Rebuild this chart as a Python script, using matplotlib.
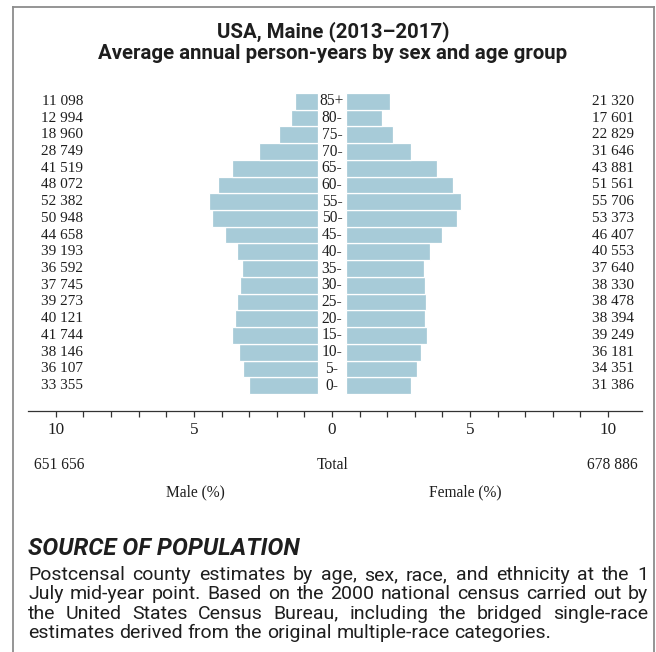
import matplotlib
matplotlib.use('Agg')
import matplotlib.pyplot as plt
from matplotlib.lines import Line2D

# Datos de la piramide (Maine 2013-2017), de 0- a 85+
ages = ['0-', '5-', '10-', '15-', '20-', '25-', '30-', '35-', '40-',
        '45-', '50-', '55-', '60-', '65-', '70-', '75-', '80-', '85+']
male = [33355, 36107, 38146, 41744, 40121, 39273, 37745, 36592, 39193,
        44658, 50948, 52382, 48072, 41519, 28749, 18960, 12994, 11098]
female = [31386, 34351, 36181, 39249, 38394, 38478, 38330, 37640, 40553,
          46407, 53373, 55706, 51561, 43881, 31646, 22829, 17601, 21320]
male_total = 651656
female_total = 678886

title1 = 'USA, Maine (2013\u20132017)'
title2 = 'Average annual person-years by sex and age group'
source_head = 'SOURCE OF POPULATION'
source_lines = [
    'Postcensal county estimates by age, sex, race, and ethnicity at the 1',
    'July mid-year point. Based on the 2000 national census carried out by',
    'the United States Census Bureau, including the bridged single-race',
    'estimates derived from the original multiple-race categories.',
]

W, H = 656, 652
bar_color = '#a7cbd8'
serif = 'Liberation Serif'
sans = 'Roboto'
ink = '#1e1e1e'


def fmt(v):
    return '{:,}'.format(v).replace(',', ' ')


grand = male_total + female_total
pm = [v / grand * 100 for v in male]
pf = [v / grand * 100 for v in female]
y = list(range(len(ages)))
off = 0.5  # hueco central para las etiquetas de edad

fig = plt.figure(figsize=(W / 100, H / 100), dpi=100)
fig.patch.set_facecolor('white')

ax = fig.add_axes([28 / W, (H - 411) / H, (642 - 28) / W, (411 - 93) / H])
ax.barh(y, [-v for v in pm], left=-off, height=1.0, color=bar_color,
        edgecolor='white', linewidth=0.9)
ax.barh(y, pf, left=off, height=1.0, color=bar_color,
        edgecolor='white', linewidth=0.9)
ax.set_xlim(-11.01, 11.23)
ax.set_ylim(-1.52, 17.5)

for i, a in enumerate(ages):
    ax.text(0, i, a, ha='center', va='center', family=serif, fontsize=11.2,
            color=ink)
    ax.text(-9.02, i, fmt(male[i]), ha='right', va='center', family=serif,
            fontsize=11, color=ink)
    ax.text(10.94, i, fmt(female[i]), ha='right', va='center', family=serif,
            fontsize=11, color=ink)

for s in ['top', 'left', 'right']:
    ax.spines[s].set_visible(False)
ax.spines['bottom'].set_color('#333333')
ax.spines['bottom'].set_linewidth(0.9)
ax.set_yticks([])
ax.set_xticks([-10, -5, 0, 5, 10])
ax.set_xticklabels(['10', '5', '0', '5', '10'], family=serif, fontsize=12.3,
                   color=ink)
ax.set_xticks([i for i in range(-10, 11) if i % 5 != 0], minor=True)
ax.tick_params(axis='x', which='both', direction='out', length=4, width=0.9,
               color='#333333', pad=4)


def px(xp, yp):
    return xp / W, (H - yp) / H


# textos inferiores
fig.text(*px(34, 469), fmt(male_total), ha='left', va='baseline',
         family=serif, fontsize=11.2, color=ink)
fig.text(*px(333, 469), 'Total', ha='center', va='baseline',
         family=serif, fontsize=11.2, color=ink)
fig.text(*px(638, 469), fmt(female_total), ha='right', va='baseline',
         family=serif, fontsize=11.2, color=ink)
fig.text(*px(195, 496), 'Male (%)', ha='center', va='baseline',
         family=serif, fontsize=11.2, color=ink)
fig.text(*px(465, 496), 'Female (%)', ha='center', va='baseline',
         family=serif, fontsize=11.2, color=ink)

# titulo
fig.text(*px(333, 37), title1, ha='center', va='baseline', family=sans,
         weight='bold', fontsize=14.7, color=ink)
fig.text(*px(333, 59), title2, ha='center', va='baseline', family=sans,
         weight='bold', fontsize=14.7, color=ink)

# fuente
fig.text(*px(28, 555), source_head, ha='left', va='baseline', family=sans,
         weight='bold', style='italic', fontsize=17.2, color=ink)

renderer = fig.canvas.get_renderer()
x0, x1 = 28, 648
body_size = 14.0
for k, line in enumerate(source_lines):
    yb = 580 + 19.3 * k
    words = line.split(' ')
    arts = [fig.text(0, 0, w, ha='left', va='baseline', family=sans,
                     fontsize=body_size, color=ink) for w in words]
    widths = [t.get_window_extent(renderer).width for t in arts]
    if k < len(source_lines) - 1:
        gap = (x1 - x0 - sum(widths)) / (len(words) - 1)
    else:
        gap = 0.25 * body_size * 100 / 72
    xc = x0
    for t, wd in zip(arts, widths):
        t.set_position(px(xc, yb))
        xc += wd + gap

# marco
fc = '#8c8c8c'
fig.add_artist(Line2D([13 / W, 13 / W], [0, (H - 6.5) / H], color=fc, lw=1.3))
fig.add_artist(Line2D([13 / W, 654 / W], [(H - 6.5) / H, (H - 6.5) / H],
                      color=fc, lw=1.3))
fig.add_artist(Line2D([654 / W, 654 / W], [0, (H - 6.5) / H], color=fc, lw=1.3))

fig.savefig('out.png', dpi=100, facecolor='white')
